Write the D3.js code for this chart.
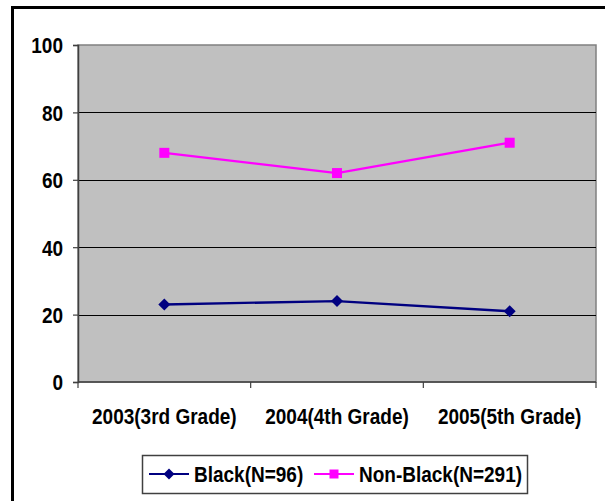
<!DOCTYPE html>
<html>
<head>
<meta charset="utf-8">
<script src="https://cdn.jsdelivr.net/npm/d3@7"></script>
<style>
  html, body { margin: 0; padding: 0; background: #fff; }
  svg { display: block; }
  text { font-family: "Liberation Sans", Arial, sans-serif; font-weight: bold; fill: #000; }
</style>
</head>
<body>
<svg id="chart" width="605" height="501"></svg>
<script>
// Categories and series values
const categories = ["2003(3rd Grade)", "2004(4th Grade)", "2005(5th Grade)"];
const blackValues = [23, 24, 21];
const nonBlackValues = [68, 62, 71];
const seriesNames = ["Black(N=96)", "Non-Black(N=291)"];
const yTicks = [0, 20, 40, 60, 80, 100];

const series = [
  { name: seriesNames[0], values: blackValues, color: "#000080", marker: "diamond" },
  { name: seriesNames[1], values: nonBlackValues, color: "#FF00FF", marker: "square" }
];

const svg = d3.select("#chart");
const plot = { left: 78, right: 596, top: 45, bottom: 382 };
const TEXT_STRETCH = 1.14; // tall, narrow lettering

// Outer frame
svg.append("rect")
  .attr("x", 12.5).attr("y", 7.5)
  .attr("width", 620).attr("height", 520)
  .attr("fill", "none").attr("stroke", "#000").attr("stroke-width", 3);

const x = d3.scaleBand().domain(categories).range([plot.left, plot.right]);
const y = d3.scaleLinear().domain([0, 100]).range([plot.bottom, plot.top]);

// Plot background
svg.append("rect")
  .attr("x", plot.left).attr("y", plot.top)
  .attr("width", plot.right - plot.left).attr("height", plot.bottom - plot.top)
  .attr("fill", "#C0C0C0").attr("stroke", "#808080").attr("stroke-width", 1.5);

// Horizontal gridlines
svg.append("g").selectAll("line")
  .data(yTicks.filter(v => v > 0 && v < 100))
  .join("line")
  .attr("x1", plot.left).attr("x2", plot.right)
  .attr("y1", d => Math.round(y(d)) + 0.5).attr("y2", d => Math.round(y(d)) + 0.5)
  .attr("stroke", "#000").attr("stroke-width", 1);

// Y axis
const yAxis = svg.append("g")
  .attr("transform", `translate(${plot.left},0)`)
  .call(d3.axisLeft(y).tickValues(yTicks).tickSize(5).tickPadding(10));
yAxis.select(".domain").attr("stroke", "#404040").attr("stroke-width", 1.5);
yAxis.selectAll(".tick line").attr("stroke", "#404040").attr("stroke-width", 1.2);
yAxis.selectAll(".tick text")
  .style("font-size", "19px").style("font-family", "'Liberation Sans', Arial, sans-serif")
  .style("font-weight", "bold").attr("fill", "#000").attr("dy", "0.36em")
  .attr("transform", `scale(1,${TEXT_STRETCH})`);

// X axis (ticks on category boundaries)
const xg = svg.append("g").attr("transform", `translate(0,${plot.bottom})`);
xg.append("line")
  .attr("x1", plot.left).attr("x2", plot.right)
  .attr("stroke", "#404040").attr("stroke-width", 1.5);
const boundaries = categories.map(c => x(c)).concat([x(categories[categories.length - 1]) + x.bandwidth()]);
xg.selectAll("line.tk").data(boundaries).join("line").attr("class", "tk")
  .attr("x1", d => d).attr("x2", d => d).attr("y1", 0).attr("y2", 6)
  .attr("stroke", "#404040").attr("stroke-width", 1.2);
xg.selectAll("text").data(categories).join("text")
  .attr("transform", d => `translate(${x(d) + x.bandwidth() / 2},42) scale(1,${TEXT_STRETCH})`)
  .attr("text-anchor", "middle")
  .style("font-size", "19px")
  .text(d => d);

// Markers
function drawMarker(g, type, color, size) {
  if (type === "diamond") {
    g.append("path").attr("d", `M0,${-size}L${size},0L0,${size}L${-size},0Z`).attr("fill", color);
  } else {
    g.append("rect").attr("x", -size).attr("y", -size).attr("width", size * 2).attr("height", size * 2).attr("fill", color);
  }
}

const line = d3.line()
  .x((d, i) => x(categories[i]) + x.bandwidth() / 2)
  .y(d => y(d));

series.forEach(s => {
  svg.append("path")
    .datum(s.values)
    .attr("d", line)
    .attr("fill", "none")
    .attr("stroke", s.color)
    .attr("stroke-width", 2.3);
  s.values.forEach((v, i) => {
    const g = svg.append("g")
      .attr("transform", `translate(${x(categories[i]) + x.bandwidth() / 2},${y(v)})`);
    drawMarker(g, s.marker, s.color, s.marker === "diamond" ? 6 : 5);
  });
});

// Legend
const legend = svg.append("g");
legend.append("rect")
  .attr("x", 142.5).attr("y", 455.5).attr("width", 385).attr("height", 38)
  .attr("fill", "#fff").attr("stroke", "#404040").attr("stroke-width", 1.5);
const legendItems = [
  { s: series[0], x0: 149 },
  { s: series[1], x0: 314 }
];
legendItems.forEach(({ s, x0 }) => {
  const cy = 474;
  legend.append("line")
    .attr("x1", x0).attr("x2", x0 + 40).attr("y1", cy).attr("y2", cy)
    .attr("stroke", s.color).attr("stroke-width", 2);
  const g = legend.append("g").attr("transform", `translate(${x0 + 20},${cy})`);
  drawMarker(g, s.marker, s.color, s.marker === "diamond" ? 5.5 : 4.5);
  legend.append("text")
    .attr("transform", `translate(${x0 + 45},${cy + 7.5}) scale(1,${TEXT_STRETCH})`)
    .style("font-size", "19px")
    .text(s.name);
});
</script>
</body>
</html>
